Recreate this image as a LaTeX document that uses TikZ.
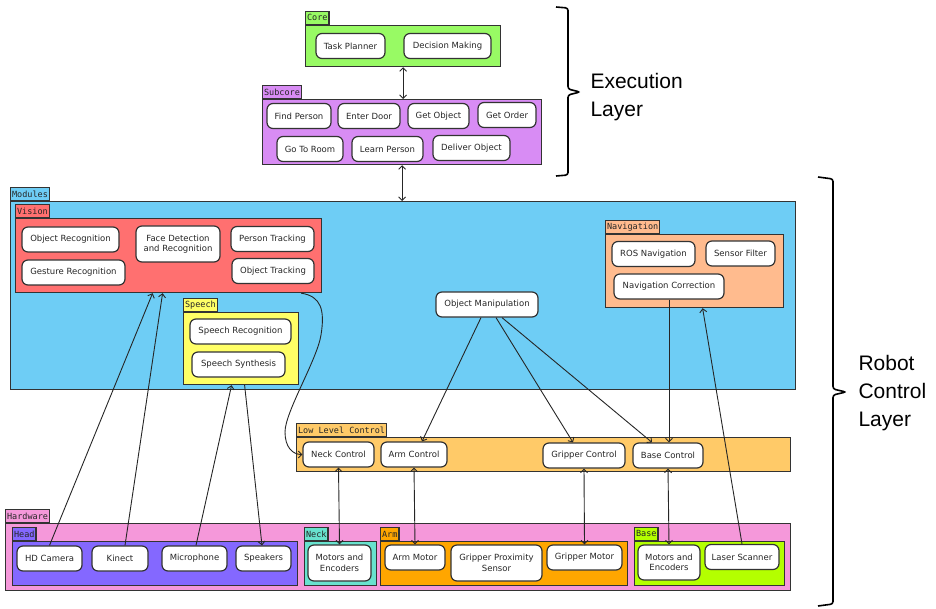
\documentclass[tikz,border=0pt]{standalone}
\usepackage{fontspec}
\setmainfont{DejaVu Sans}
\setmonofont{DejaVu Sans Mono}
\newfontfamily\layerfont{Liberation Sans}
\usepackage{tikz}
\usetikzlibrary{arrows.meta}

\definecolor{coregreen}{RGB}{152,250,100}
\definecolor{subpurple}{RGB}{216,140,244}
\definecolor{modblue}{RGB}{110,205,245}
\definecolor{visred}{RGB}{255,112,112}
\definecolor{speechyel}{RGB}{255,255,102}
\definecolor{navpeach}{RGB}{255,187,142}
\definecolor{llcorange}{RGB}{255,202,104}
\definecolor{hwpink}{RGB}{245,152,218}
\definecolor{headviolet}{RGB}{132,104,255}
\definecolor{neckteal}{RGB}{104,226,206}
\definecolor{armorange}{RGB}{255,166,0}
\definecolor{baselime}{RGB}{180,255,0}

\begin{document}
\begin{tikzpicture}[x=1pt, y=-1pt, >={Straight Barb[length=3.5pt,width=7pt]},
  font=\fontsize{8.5}{10.5}\selectfont,
  comp/.style={draw=black!80, line width=1.2pt, fill=white, text=black!85, rounded corners=6pt,
    minimum height=25, inner xsep=3pt, inner ysep=2pt, align=center},
  pack/.style={draw=black!80, line width=1.2pt, fill=#1, anchor=north west, inner sep=0pt},
  tab/.style={draw=black!80, line width=1.2pt, fill=#1, anchor=south west, inner xsep=1.5pt,
    inner ysep=0pt, minimum height=13, font=\ttfamily\fontsize{8.5}{9}\selectfont, text=black!85},
  link/.style={->, line width=0.9pt, black!85},
  dlink/.style={<->, line width=0.9pt, black!85},
  layerbrace/.style={line width=1.6pt, rounded corners=2.5pt},
  layer/.style={font=\layerfont\fontsize{21}{28}\selectfont, align=left, anchor=west}]

  \useasboundingbox (0,0) rectangle (936,609);

  % execution layer
  \node[pack=coregreen, minimum width=195, minimum height=41] (core) at (305,25) {};
  \node[tab=coregreen] (coretab) at (core.north west) {Core};
  \node[comp, minimum width=69] (taskplan) at (350.5,46) {Task Planner};
  \node[comp, minimum width=87] (decision) at (447.5,46) {Decision Making};

  \node[pack=subpurple, minimum width=279, minimum height=65] (subcore) at (262,99) {};
  \node[tab=subpurple] (subcoretab) at (subcore.north west) {Subcore};
  \node[comp, minimum width=64] (findperson) at (299,116) {Find Person};
  \node[comp, minimum width=62] (enterdoor) at (369,116) {Enter Door};
  \node[comp, minimum width=61] (getobject) at (438.5,116) {Get Object};
  \node[comp, minimum width=58] (getorder) at (507,115) {Get Order};
  \node[comp, minimum width=66] (gotoroom) at (310,149) {Go To Room};
  \node[comp, minimum width=71] (learnperson) at (387.5,149) {Learn Person};
  \node[comp, minimum width=77] (deliver) at (471.5,148) {Deliver Object};

  % modules
  \node[pack=modblue, minimum width=785, minimum height=188] (modules) at (10,201) {};
  \node[tab=modblue] (modulestab) at (modules.north west) {Modules};

  \node[pack=visred, minimum width=306, minimum height=74] (vision) at (15,218) {};
  \node[tab=visred] (visiontab) at (vision.north west) {Vision};
  \node[comp, minimum width=97] (objrec) at (70.5,239.5) {Object Recognition};
  \node[comp, minimum width=103] (gestrec) at (73.5,272.5) {Gesture Recognition};
  \node[comp, minimum width=84, minimum height=36] (facedet) at (178,244) {Face Detection\\and Recognition};
  \node[comp, minimum width=83] (persontrack) at (272.5,239) {Person Tracking};
  \node[comp, minimum width=82] (objtrack) at (273,271) {Object Tracking};

  \node[pack=speechyel, minimum width=115, minimum height=72] (speech) at (183,312) {};
  \node[tab=speechyel] (speechtab) at (speech.north west) {Speech};
  \node[comp, minimum width=101] (speechrec) at (240.5,331.5) {Speech Recognition};
  \node[comp, minimum width=93] (speechsyn) at (238.5,364.5) {Speech Synthesis};

  \node[comp, minimum width=102] (objmanip) at (487,304.5) {Object Manipulation};

  \node[pack=navpeach, minimum width=178, minimum height=73] (nav) at (605,234) {};
  \node[tab=navpeach] (navtab) at (nav.north west) {Navigation};
  \node[comp, minimum width=83] (rosnav) at (653.5,254) {ROS Navigation};
  \node[comp, minimum width=69] (sensorfilt) at (740.5,253.5) {Sensor Filter};
  \node[comp, minimum width=110] (navcorr) at (669,286.5) {Navigation Correction};

  % low level control
  \node[pack=llcorange, minimum width=494, minimum height=34] (llc) at (296,437) {};
  \node[tab=llcorange] (llctab) at (llc.north west) {Low Level Control};
  \node[comp, minimum width=71] (neckctl) at (338.5,454.5) {Neck Control};
  \node[comp, minimum width=66] (armctl) at (414,454.5) {Arm Control};
  \node[comp, minimum width=82] (gripctl) at (584,455.5) {Gripper Control};
  \node[comp, minimum width=70] (basectl) at (668,455.5) {Base Control};

  % hardware
  \node[pack=hwpink, minimum width=785, minimum height=67] (hardware) at (5,523) {};
  \node[tab=hwpink] (hardwaretab) at (hardware.north west) {Hardware};

  \node[pack=headviolet, minimum width=285, minimum height=44] (head) at (12,541) {};
  \node[tab=headviolet] (headtab) at (head.north west) {Head};
  \node[comp, minimum width=65] (hdcam) at (49.5,558.5) {HD Camera};
  \node[comp, minimum width=56] (kinect) at (120,558.5) {Kinect};
  \node[comp, minimum width=65] (mic) at (194.5,558.5) {Microphone};
  \node[comp, minimum width=55] (speakers) at (263.5,558.5) {Speakers};

  \node[pack=neckteal, minimum width=72, minimum height=44] (neck) at (304,541) {};
  \node[tab=neckteal] (necktab) at (neck.north west) {Neck};
  \node[comp, minimum width=63, minimum height=36] (neckmot) at (339.5,563) {Motors and\\Encoders};

  \node[pack=armorange, minimum width=247, minimum height=44] (arm) at (380,541) {};
  \node[tab=armorange] (armtab) at (arm.north west) {Arm};
  \node[comp, minimum width=60] (armmot) at (415,557.5) {Arm Motor};
  \node[comp, minimum width=91, minimum height=36] (gripsens) at (496.5,563) {Gripper Proximity\\Sensor};
  \node[comp, minimum width=75] (gripmot) at (584.5,557.5) {Gripper Motor};

  \node[pack=baselime, minimum width=150, minimum height=44] (base) at (634,541) {};
  \node[tab=baselime] (basetab) at (base.north west) {Base};
  \node[comp, minimum width=62, minimum height=35] (basemot) at (669,562.5) {Motors and\\Encoders};
  \node[comp, minimum width=74] (laser) at (742,557) {Laser Scanner};

  % connectors
  \draw[dlink] (core.south) -- (core.south |- subcore.north);
  \draw[dlink] (subcore.south) -- (subcore.south |- modules.north);
  \draw[link] (hdcam.north) -- ([xshift=-16]vision.south);
  \draw[link] ([xshift=5]kinect.north) -- ([xshift=-6]vision.south);
  \draw[link] ([xshift=1.5]mic.north) -- ([xshift=-9.5]speech.south);
  \draw[link] ([xshift=3.5]speech.south) -- ([xshift=-1.5]speakers.north);
  \draw[link] ([xshift=-21]vision.south east) .. controls +(20,3) and +(4,-25) .. (321,335)
    .. controls +(-4,25) and +(0,-20) .. (285,432) .. controls +(0,15) and +(-10,0) .. (neckctl.west);
  \draw[link] ([xshift=-6]objmanip.south) -- ([xshift=8]armctl.north);
  \draw[link] ([xshift=9]objmanip.south) -- ([xshift=-11]gripctl.north);
  \draw[link] ([xshift=15]objmanip.south) -- ([xshift=-16]basectl.north);
  \draw[link] (navcorr.south) -- (navcorr.south |- basectl.north);
  \draw[link] (laser.north) -- ([xshift=8]nav.south);
  \draw[dlink] (neckctl.south) -- (neckmot.north);
  \draw[dlink] (armctl.south) -- (armmot.north);
  \draw[dlink] (gripctl.south) -- (gripmot.north);
  \draw[dlink] (basectl.south) -- (basemot.north);

  % layer braces
  \draw[layerbrace] (556,7) -- (568,8) -- (568,89) -- (580,92) -- (568,95) -- (568,175) -- (556,176);
  \node[layer] (execlabel) at (587,97) {Execution\\Layer};
  \draw[layerbrace] (818,177) -- (833,179) -- (833,389) -- (846,392) -- (833,395) -- (833,604) -- (818,606);
  \node[layer] (robotlabel) at (855,393) {Robot\\Control\\Layer};
\end{tikzpicture}
\end{document}
